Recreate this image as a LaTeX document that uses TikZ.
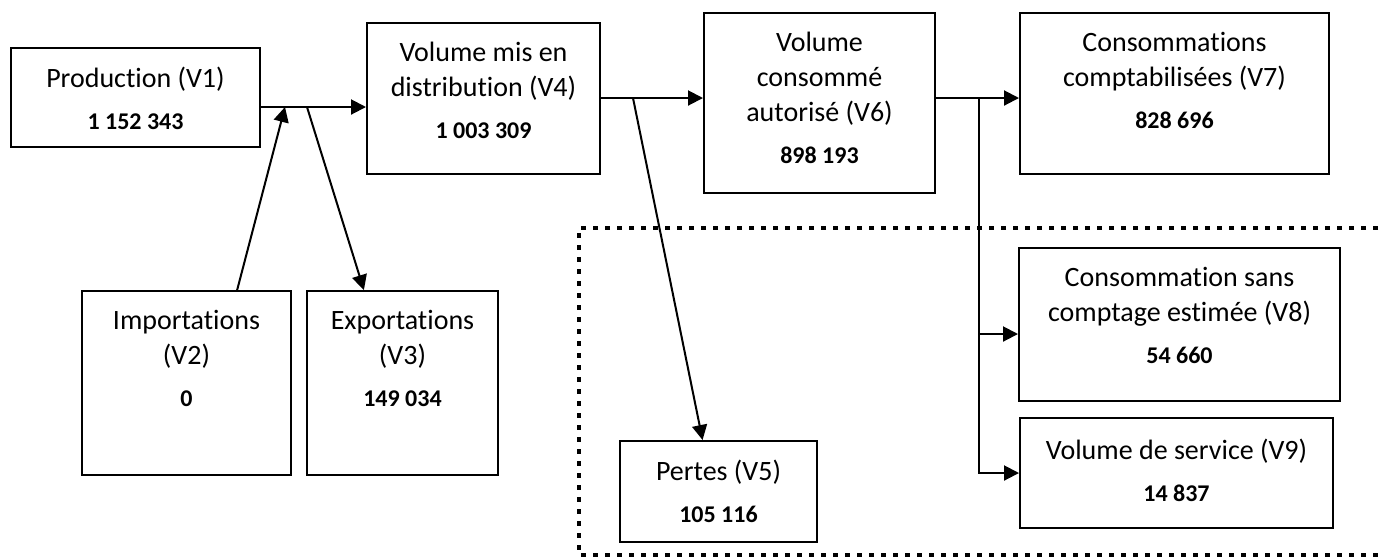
\documentclass[tikz,border=0pt]{standalone}
\usepackage{fontspec}
\setmainfont{Carlito}[Ligatures=NoCommon]
\usetikzlibrary{positioning, calc, arrows.meta}

\newcommand{\vol}[1]{{\fontsize{12}{14}\selectfont\bfseries #1}}

\begin{document}
\begin{tikzpicture}[x=0.5pt, y=-0.5pt,
	cell/.style={rectangle, draw, line width=1pt, inner sep=0pt},
	txt/.style={align=center, inner sep=0pt, font=\fontsize{14}{17.5}\selectfont},
	flow/.style={line width=1pt, -{Triangle[length=7.5pt, width=7.5pt]}},
	dotbox/.style={line width=2.4pt, dash pattern=on 2.4pt off 3.6pt}
	]
	\useasboundingbox (0,0) rectangle (1384,559);

	% boxes
	\node[cell, minimum width=124.5pt, minimum height=49.5pt] (v1) at (135.5,97.5) {};
	\node[cell, minimum width=116.5pt, minimum height=75.5pt] (v4) at (483.5,98.5) {};
	\node[cell, minimum width=115.5pt, minimum height=90pt] (v6) at (819.5,103) {};
	\node[cell, minimum width=154.5pt, minimum height=80.5pt] (v7) at (1174.5,93.5) {};
	\node[cell, minimum width=104.5pt, minimum height=92pt] (v2) at (186.5,383) {};
	\node[cell, minimum width=95.5pt, minimum height=92pt] (v3) at (402.5,383) {};
	\node[cell, minimum width=98.5pt, minimum height=50.5pt] (v5) at (718.5,491.5) {};
	\node[cell, minimum width=160.5pt, minimum height=76.5pt] (v8) at (1179.5,324.5) {};
	\node[cell, minimum width=156.5pt, minimum height=55pt] (v9) at (1176.5,473) {};

	% texts
	\node[txt, below=10pt of v1.north] (v1t) {Production (V1)\\[3.5pt]\vol{1 152 343}};
	\node[txt, below=10pt of v4.north] (v4t) {Volume mis en\\distribution (V4)\\[3.5pt]\vol{1 003 309}};
	\node[txt, below=10pt of v6.north] (v6t) {Volume\\consommé\\autorisé (V6)\\[3.5pt]\vol{898 193}};
	\node[txt, below=10pt of v7.north] (v7t) {Consommations\\comptabilisées (V7)\\[3.5pt]\vol{828 696}};
	\node[txt, below=10pt of v2.north] (v2t) {Importations\\(V2)\\[3.5pt]\vol{0}};
	\node[txt, below=10pt of v3.north] (v3t) {Exportations\\(V3)\\[3.5pt]\vol{149 034}};
	\node[txt, below=10pt of v5.north] (v5t) {Pertes (V5)\\[3.5pt]\vol{105 116}};
	\node[txt, below=10pt of v8.north] (v8t) {Consommation sans\\comptage estimée (V8)\\[3.5pt]\vol{54 660}};
	\node[txt, below=11pt of v9.north] (v9t) {Volume de service (V9)\\[3.5pt]\vol{14 837}};

	% junctions
	\coordinate (j1) at (285,107);
	\coordinate (j2) at (307,107);
	\coordinate (j3) at (633,98);
	\coordinate (j4) at (979,98);

	% flows
	\draw[flow] (v1.east |- j1) -- (v4.west |- j1);
	\draw[flow] ($(v2.north west)!0.74!(v2.north east)$) -- (j1);
	\draw[flow] (j2) -- ($(v3.north west)!0.3!(v3.north east)$);
	\draw[flow] (v4.east |- j3) -- (v6.west |- j3);
	\draw[flow] (j3) -- ($(v5.north west)!0.42!(v5.north east)$);
	\draw[flow] (v6.east |- j4) -- (v7.west |- j4);
	\draw[flow] (j4) |- ([yshift=-4.75pt]v8.west);
	\draw[flow] (j4) |- (v9.west);

	% losses frame
	\draw[dotbox] (1390,228) -- (579,228) -- (579,555) -- (1390,555);
\end{tikzpicture}
\end{document}
